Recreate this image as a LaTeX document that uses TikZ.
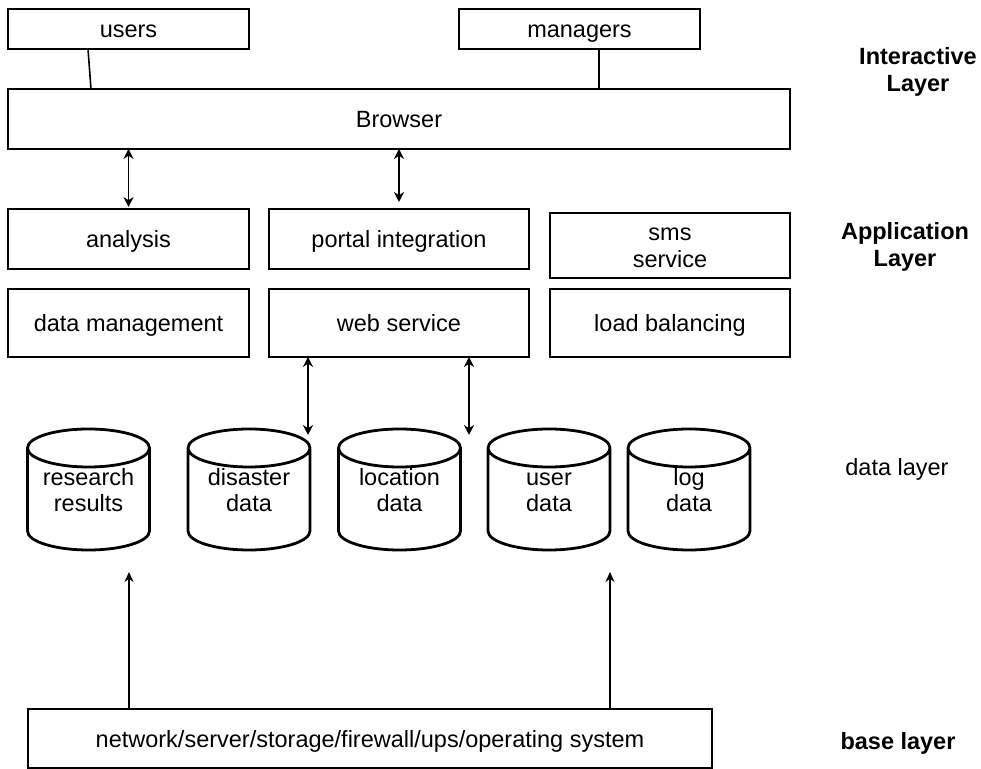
\documentclass[tikz,border=0pt]{standalone}
\usepackage{fontspec}
\setmainfont{Liberation Sans}
\usetikzlibrary{arrows.meta}

\tikzset{
  box/.style={draw, line width=1pt, inner sep=0pt, outer sep=0pt, align=center,
    font=\fontsize{11.75}{13.5}\selectfont, text height=12.7pt, text depth=4.05pt},
  twoline/.style={text height=26.2pt},
  db/.style={inner sep=0pt, outer sep=0pt, minimum width=61pt, minimum height=60.5pt,
    align=center, font=\fontsize{11.75}{13}\selectfont, text height=25.7pt, text depth=4.05pt},
  layer/.style={align=center, font=\fontsize{11.75}{13.5}\selectfont\bfseries},
  link/.style={line width=0.8pt, {Stealth[length=5pt,width=5pt]}-{Stealth[length=5pt,width=5pt]}},
  feed/.style={line width=0.6pt, -{Stealth[length=5pt,width=4.5pt]}},
}

\begin{document}
\begin{tikzpicture}[x=0.5pt, y=-0.5pt]
        \useasboundingbox (0, 0) rectangle (981, 769);
        % interactive layer
        \node[box, minimum width=120.5pt, minimum height=20pt] (users) at (128.5, 29) {users};
        \node[box, minimum width=120.5pt, minimum height=20pt] (managers) at (579.5, 29) {managers};
        \node[box, minimum width=391pt, minimum height=30pt] (browser) at (399, 119) {Browser};
        % application layer
        \node[box, minimum width=120.5pt, minimum height=30pt] (analysis) at (128.5, 239) {analysis};
        \node[box, minimum width=130pt, minimum height=30pt] (portal) at (399, 239) {portal integration};
        \node[box, twoline, minimum width=120pt, minimum height=32.5pt] (sms) at (670, 245.5) {sms\\service};
        \node[box, minimum width=120.5pt, minimum height=34pt] (datamgmt) at (128.5, 323) {data management};
        \node[box, minimum width=130pt, minimum height=34pt] (websvc) at (399, 323) {web service};
        \node[box, minimum width=120pt, minimum height=34pt] (loadbal) at (670, 323) {load balancing};
        % data layer
        \node[db] (research) at (88.5, 489.5) {research\\results};
        \node[db] (disaster) at (249, 489.5) {disaster\\data};
        \node[db] (location) at (399.5, 489.5) {location\\data};
        \node[db] (userdata) at (549, 489.5) {user\\data};
        \node[db] (logdata) at (689, 489.5) {log\\data};
        \foreach \c in {research, disaster, location, userdata, logdata}
          \draw[line width=1.4pt] ([yshift=-9.5pt]\c.north) ellipse [x radius=30.5pt, y radius=9.5pt]
            ([yshift=-9.5pt]\c.north west) -- ([yshift=9.5pt]\c.south west)
            arc [start angle=180, end angle=360, x radius=30.5pt, y radius=9.5pt]
            -- ([yshift=-9.5pt]\c.north east);
        % base layer
        \node[box, minimum width=342pt, minimum height=29.5pt] (base) at (370, 738.5) {network/server/storage/firewall/ups/operating system};
        % layer names
        \node[layer] (ilayer) at (918, 71.5) {Interactive\\Layer};
        \node[layer] (alayer) at (905, 246.5) {Application\\Layer};
        \node[font=\fontsize{11.75}{13.5}\selectfont] (dlayer) at (897, 469) {data layer};
        \node[layer] (blayer) at (898, 743) {base layer};
        % connectors
        \coordinate (ws1) at (308, 435);
        \coordinate (ws2) at (469, 435);
        \coordinate (up1) at (129, 572);
        \coordinate (up2) at (610, 572);
        \draw[line width=0.8pt] ([xshift=40pt]users.south west) -- ([xshift=41.5pt]browser.north west);
        \draw[line width=0.8pt] ([xshift=70pt]managers.south west) coordinate (m) -- (m |- browser.north);
        \draw[link, shorten <=1pt] (analysis.north) -- (analysis.north |- browser.south);
        \draw[link, shorten <=3.5pt] (portal.north) -- (portal.north |- browser.south);
        \draw[link] (ws1 |- websvc.south) -- (ws1);
        \draw[link] (ws2 |- websvc.south) -- (ws2);
        \draw[feed] (up1 |- base.north) -- (up1);
        \draw[feed] (up2 |- base.north) -- (up2);
      \end{tikzpicture}
\end{document}
